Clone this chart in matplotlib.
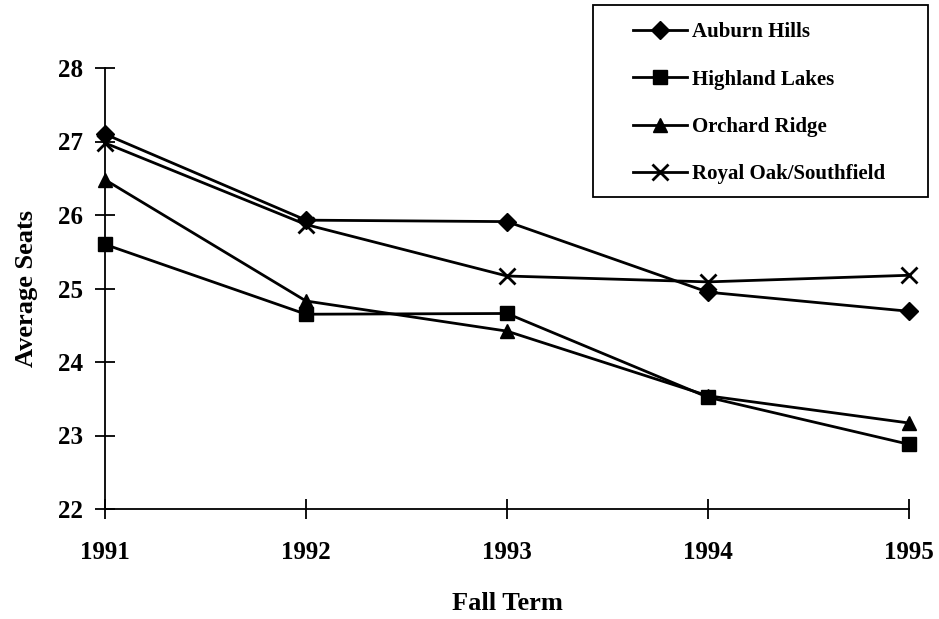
import matplotlib
matplotlib.use("Agg")
import matplotlib.pyplot as plt
from matplotlib.patches import Rectangle

years = [1991, 1992, 1993, 1994, 1995]
auburn_hills = [27.1, 25.93, 25.91, 24.95, 24.69]
highland_lakes = [25.6, 24.65, 24.66, 23.52, 22.88]
orchard_ridge = [26.48, 24.83, 24.42, 23.54, 23.17]
royal_oak = [26.98, 25.87, 25.17, 25.09, 25.18]
yticks = [22, 23, 24, 25, 26, 27, 28]

plt.rcParams['font.family'] = ['Liberation Serif', 'DejaVu Serif']
plt.rcParams['font.weight'] = 'bold'

W, H = 939, 619
fig = plt.figure(figsize=(W / 100, H / 100), dpi=100)
ax = fig.add_axes([105 / W, 1 - 509 / H, (909 - 105) / W, (509 - 68) / H])

kw = dict(color='black', lw=2.0, clip_on=False, zorder=3)
ax.plot(years, auburn_hills, marker='D', ms=9, label='Auburn Hills', **kw)
ax.plot(years, highland_lakes, marker='s', ms=10, label='Highland Lakes', **kw)
ax.plot(years, orchard_ridge, marker='^', ms=10, label='Orchard Ridge', **kw)
ax.plot(years, royal_oak, marker='x', ms=11, mew=2.0, label='Royal Oak/Southfield', **kw)

ax.set_xlim(1991, 1995)
ax.set_ylim(22, 28)
ax.set_xticks(years)
ax.set_xticklabels([str(y) for y in years])
ax.set_yticks(yticks)
ax.spines['top'].set_visible(False)
ax.spines['right'].set_visible(False)
for s in ('left', 'bottom'):
    ax.spines[s].set_linewidth(1.3)
ax.tick_params(direction='inout', length=14, width=1.3, labelsize=18)
ax.tick_params(axis='x', pad=16)
ax.tick_params(axis='y', pad=9)
for lab in ax.get_xticklabels() + ax.get_yticklabels():
    lab.set_fontweight('bold')

ax.set_xlabel('Fall Term', fontsize=19, fontweight='bold', labelpad=20)
ax.set_ylabel('Average Seats', fontsize=19, fontweight='bold', labelpad=14)

leg = fig.legend(loc='upper left', bbox_to_anchor=(633 / W, 1 - 22 / H),
                 bbox_transform=fig.transFigure,
                 prop={'size': 15, 'weight': 'bold'}, frameon=False,
                 labelspacing=1.32, handlelength=2.6, handletextpad=0.24,
                 borderpad=0, borderaxespad=0)
fig.add_artist(Rectangle((593 / W, 1 - 197 / H), 335 / W, 192 / H,
                         transform=fig.transFigure, fill=False,
                         edgecolor='black', lw=1.3))

fig.savefig('out.png', dpi=100)
